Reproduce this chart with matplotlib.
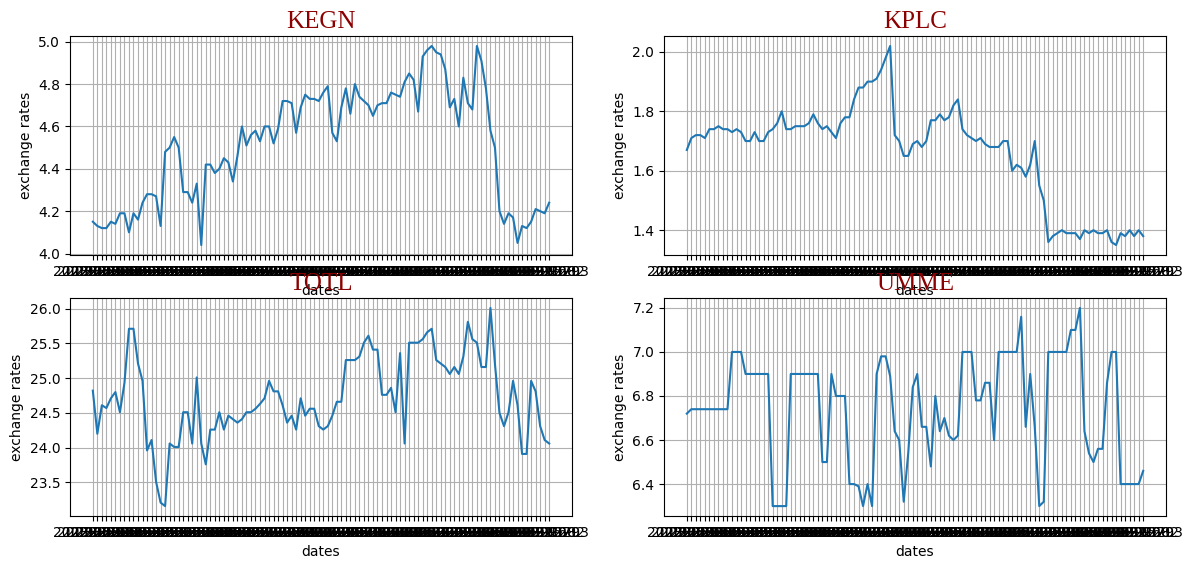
import matplotlib
matplotlib.use("Agg")
import matplotlib.pyplot as plt
import pandas as pd

# categories: trading dates (shared by all four series)
dates = [d.strftime("%Y-%m-%d") for d in pd.bdate_range(end="2023-10-03", periods=102)]

kegn = [4.15, 4.13, 4.12, 4.12, 4.15, 4.14, 4.19, 4.19, 4.10, 4.19,
        4.16, 4.24, 4.28, 4.28, 4.27, 4.13, 4.48, 4.50, 4.55, 4.50,
        4.29, 4.29, 4.24, 4.33, 4.04, 4.42, 4.42, 4.38, 4.40, 4.45,
        4.43, 4.34, 4.46, 4.60, 4.51, 4.56, 4.58, 4.53, 4.60, 4.60,
        4.52, 4.59, 4.72, 4.72, 4.71, 4.57, 4.69, 4.75, 4.73, 4.73,
        4.72, 4.76, 4.79, 4.57, 4.53, 4.69, 4.78, 4.66, 4.80, 4.74,
        4.72, 4.70, 4.65, 4.70, 4.71, 4.71, 4.76, 4.75, 4.74, 4.81,
        4.85, 4.82, 4.67, 4.93, 4.96, 4.98, 4.95, 4.94, 4.87, 4.69,
        4.73, 4.60, 4.83, 4.71, 4.68, 4.98, 4.91, 4.78, 4.58, 4.50,
        4.20, 4.14, 4.19, 4.17, 4.05, 4.13, 4.12, 4.15, 4.21, 4.20,
        4.19, 4.24]

kplc = [1.67, 1.71, 1.72, 1.72, 1.71, 1.74, 1.74, 1.75, 1.74, 1.74,
        1.73, 1.74, 1.73, 1.70, 1.70, 1.73, 1.70, 1.70, 1.73, 1.74,
        1.76, 1.80, 1.74, 1.74, 1.75, 1.75, 1.75, 1.76, 1.79, 1.76,
        1.74, 1.75, 1.73, 1.71, 1.76, 1.78, 1.78, 1.84, 1.88, 1.88,
        1.90, 1.90, 1.91, 1.94, 1.98, 2.02, 1.72, 1.70, 1.65, 1.65,
        1.69, 1.70, 1.68, 1.70, 1.77, 1.77, 1.79, 1.77, 1.78, 1.82,
        1.84, 1.74, 1.72, 1.71, 1.70, 1.71, 1.69, 1.68, 1.68, 1.68,
        1.70, 1.70, 1.60, 1.62, 1.61, 1.58, 1.62, 1.70, 1.55, 1.50,
        1.36, 1.38, 1.39, 1.40, 1.39, 1.39, 1.39, 1.37, 1.40, 1.39,
        1.40, 1.39, 1.39, 1.40, 1.36, 1.35, 1.39, 1.38, 1.40, 1.38,
        1.40, 1.38]

totl = [24.82, 24.20, 24.61, 24.57, 24.71, 24.80, 24.51, 24.93, 25.71, 25.71,
        25.21, 24.96, 23.96, 24.11, 23.51, 23.21, 23.16, 24.06, 24.01, 24.01,
        24.51, 24.51, 24.06, 25.01, 24.06, 23.76, 24.26, 24.26, 24.51, 24.26,
        24.46, 24.41, 24.36, 24.41, 24.51, 24.51, 24.56, 24.63, 24.71, 24.96,
        24.81, 24.81, 24.61, 24.36, 24.46, 24.26, 24.71, 24.46, 24.56, 24.56,
        24.31, 24.26, 24.31, 24.46, 24.66, 24.66, 25.26, 25.26, 25.26, 25.31,
        25.51, 25.61, 25.41, 25.41, 24.76, 24.76, 24.86, 24.51, 25.36, 24.06,
        25.51, 25.51, 25.51, 25.56, 25.66, 25.71, 25.26, 25.21, 25.16, 25.06,
        25.16, 25.06, 25.31, 25.81, 25.56, 25.51, 25.16, 25.16, 26.01, 25.20,
        24.50, 24.31, 24.51, 24.96, 24.61, 23.91, 23.91, 24.96, 24.81, 24.31,
        24.11, 24.06]

umme = [6.72, 6.74, 6.74, 6.74, 6.74, 6.74, 6.74, 6.74, 6.74, 6.74,
        7.00, 7.00, 7.00, 6.90, 6.90, 6.90, 6.90, 6.90, 6.90, 6.30,
        6.30, 6.30, 6.30, 6.90, 6.90, 6.90, 6.90, 6.90, 6.90, 6.90,
        6.50, 6.50, 6.90, 6.80, 6.80, 6.80, 6.40, 6.40, 6.39, 6.30,
        6.40, 6.30, 6.90, 6.98, 6.98, 6.89, 6.64, 6.60, 6.32, 6.54,
        6.84, 6.90, 6.66, 6.66, 6.48, 6.80, 6.64, 6.70, 6.62, 6.60,
        6.62, 7.00, 7.00, 7.00, 6.78, 6.78, 6.86, 6.86, 6.60, 7.00,
        7.00, 7.00, 7.00, 7.00, 7.16, 6.66, 6.90, 6.66, 6.30, 6.32,
        7.00, 7.00, 7.00, 7.00, 7.00, 7.10, 7.10, 7.20, 6.64, 6.54,
        6.50, 6.56, 6.56, 6.86, 7.00, 7.00, 6.40, 6.40, 6.40, 6.40,
        6.40, 6.46]

names = ["KEGN", "KPLC", "TOTL", "UMME"]
series = [kegn, kplc, totl, umme]

W, H = 1190, 563
fig = plt.figure(figsize=(W / 100, H / 100), dpi=100)

# axes rectangles in pixel coordinates (left, top, right, bottom)
rects_px = [(70, 36, 572, 255), (664, 36, 1166, 255),
            (70, 298, 572, 516), (664, 298, 1166, 516)]

title_font = {"family": "Liberation Serif", "color": "darkred", "size": 18}

for (l, t, r, b), name, vals in zip(rects_px, names, series):
    ax = fig.add_axes([l / W, 1 - b / H, (r - l) / W, (b - t) / H])
    ax.plot(dates, vals, color="#1f77b4", linewidth=1.5)
    ax.grid(True)
    ax.set_title(name, fontdict=title_font)
    ax.set_xlabel("dates")
    ax.set_ylabel("exchange rates")

fig.savefig("out.png", dpi=100)
